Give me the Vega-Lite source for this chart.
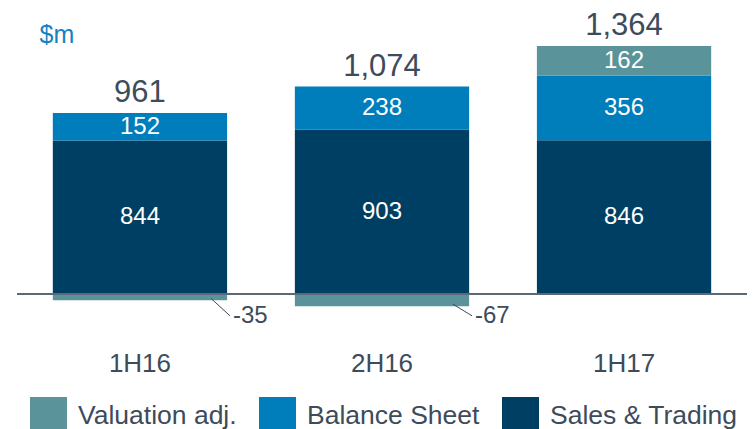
{
  "$schema": "https://vega.github.io/schema/vega-lite/v6.json",
  "autosize": "none",
  "width": 730,
  "height": 290,
  "padding": {"left": 17, "top": 40, "right": 7, "bottom": 99},
  "background": "white",
  "config": {
    "view": {"stroke": null},
    "font": "Liberation Sans",
    "text": {"font": "Liberation Sans"}
  },
  "data": {
    "values": [
      {"period": "1H16", "category": "Sales & Trading", "value": 844, "order": 1},
      {"period": "1H16", "category": "Balance Sheet", "value": 152, "order": 2},
      {"period": "1H16", "category": "Valuation adj.", "value": -35, "order": 3},
      {"period": "2H16", "category": "Sales & Trading", "value": 903, "order": 1},
      {"period": "2H16", "category": "Balance Sheet", "value": 238, "order": 2},
      {"period": "2H16", "category": "Valuation adj.", "value": -67, "order": 3},
      {"period": "1H17", "category": "Sales & Trading", "value": 846, "order": 1},
      {"period": "1H17", "category": "Balance Sheet", "value": 356, "order": 2},
      {"period": "1H17", "category": "Valuation adj.", "value": 162, "order": 3}
    ]
  },
  "layer": [
    {
      "mark": {"type": "bar"},
      "encoding": {
        "x": {
          "field": "period",
          "type": "nominal",
          "sort": ["1H16", "2H16", "1H17"],
          "scale": {"paddingInner": 0.28, "paddingOuter": 0.148},
          "axis": {
            "title": null,
            "domain": false,
            "ticks": false,
            "labelAngle": 0,
            "labelFontSize": 26,
            "labelFont": "Liberation Sans",
            "labelColor": "#3d4b5b",
            "labelBaseline": "middle",
            "labelPadding": 33
          }
        },
        "y": {
          "field": "value",
          "type": "quantitative",
          "stack": "zero",
          "scale": {"domain": [-198, 1397], "nice": false},
          "axis": {
            "orient": "left",
            "labels": false,
            "ticks": false,
            "domain": false,
            "grid": false,
            "title": "$m",
            "titleAngle": 0,
            "titleAlign": "left",
            "titleBaseline": "alphabetic",
            "titleX": 22,
            "titleY": 2,
            "titleFontSize": 25,
            "titleFontWeight": "normal",
            "titleFont": "Liberation Sans",
            "titleColor": "#1581c2"
          }
        },
        "color": {
          "field": "category",
          "type": "nominal",
          "scale": {
            "domain": ["Valuation adj.", "Balance Sheet", "Sales & Trading"],
            "range": ["#5a9399", "#007dbb", "#003f64"]
          },
          "legend": {
            "orient": "none",
            "legendX": 13,
            "legendY": 357,
            "direction": "horizontal",
            "title": null,
            "symbolType": "square",
            "symbolSize": 1369,
            "symbolStrokeWidth": 0,
            "symbolOpacity": 1,
            "labelFontSize": 26.5,
            "labelFont": "Liberation Sans",
            "labelColor": "#3d4b5b",
            "labelOffset": 11,
            "labelLimit": 300,
            "columnPadding": 22,
            "padding": 0
          }
        },
        "order": {"field": "order", "type": "quantitative", "sort": "ascending"}
      }
    },
    {
      "transform": [{"filter": "datum.value > 0"}],
      "mark": {"type": "text", "color": "white", "fontSize": 24, "baseline": "middle", "font": "Liberation Sans"},
      "encoding": {
        "x": {"field": "period", "type": "nominal", "sort": ["1H16", "2H16", "1H17"]},
        "y": {"field": "value", "type": "quantitative", "stack": "zero", "bandPosition": 0.5},
        "order": {"field": "order", "type": "quantitative", "sort": "ascending"},
        "text": {"field": "value", "type": "quantitative", "format": ","}
      }
    },
    {
      "transform": [
        {"joinaggregate": [{"op": "sum", "field": "value", "as": "total"}], "groupby": ["period"]},
        {"filter": "datum.value > 0"},
        {"aggregate": [{"op": "sum", "field": "value", "as": "top"}, {"op": "max", "field": "total", "as": "total"}], "groupby": ["period"]}
      ],
      "mark": {"type": "text", "color": "#3d4b5b", "fontSize": 31, "baseline": "alphabetic", "dy": -11, "font": "Liberation Sans"},
      "encoding": {
        "x": {"field": "period", "type": "nominal", "sort": ["1H16", "2H16", "1H17"]},
        "y": {"field": "top", "type": "quantitative"},
        "text": {"field": "total", "type": "quantitative", "format": ","}
      }
    },
    {
      "transform": [{"filter": "datum.value < 0"}],
      "mark": {"type": "rule", "color": "#3d4b5b", "strokeWidth": 1, "xOffset": 71, "x2Offset": 90, "yOffset": -2},
      "encoding": {
        "x": {"field": "period", "type": "nominal", "sort": ["1H16", "2H16", "1H17"], "bandPosition": 0.5},
        "x2": {"field": "period"},
        "y": {"field": "value", "type": "quantitative"},
        "y2": {"datum": -120}
      }
    },
    {
      "transform": [{"filter": "datum.value < 0"}],
      "mark": {"type": "text", "color": "#3d4b5b", "fontSize": 24, "align": "left", "baseline": "middle", "dx": 93, "font": "Liberation Sans"},
      "encoding": {
        "x": {"field": "period", "type": "nominal", "sort": ["1H16", "2H16", "1H17"]},
        "y": {"datum": -120},
        "text": {"field": "value", "type": "nominal"}
      }
    },
    {
      "mark": {"type": "rule", "color": "#5a6878", "strokeWidth": 2},
      "encoding": {"y": {"datum": 0}}
    }
  ]
}
